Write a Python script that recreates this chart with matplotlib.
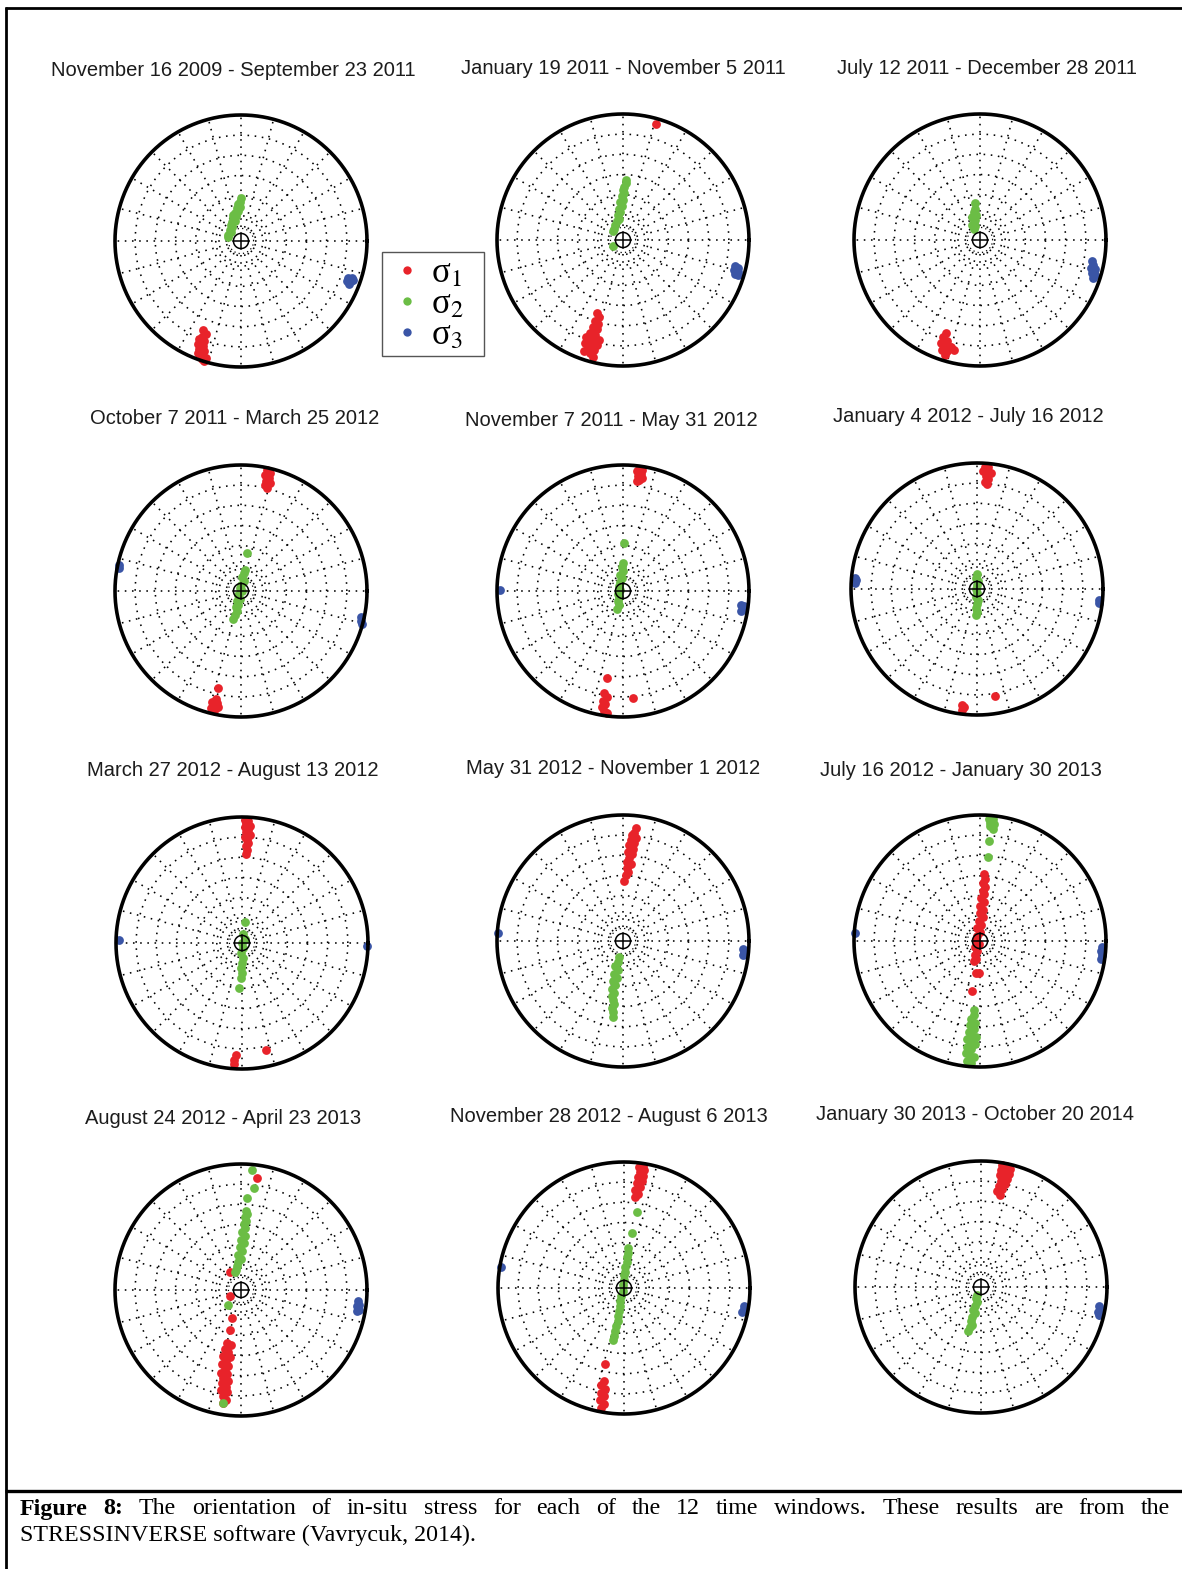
import matplotlib
matplotlib.use('Agg')  # headless
import matplotlib.pyplot as plt
from matplotlib.lines import Line2D
from matplotlib.patches import Rectangle
import numpy as np

W, H, DPI = 1182, 1569, 100

RED = '#e8232a'
GREEN = '#6bbd45'
BLUE = '#3a55a6'

titles = [
    'November 16 2009 - September 23 2011', 'January 19 2011 - November 5 2011',
    'July 12 2011 - December 28 2011',
    'October 7 2011 - March 25 2012', 'November 7 2011 - May 31 2012',
    'January 4 2012 - July 16 2012',
    'March 27 2012 - August 13 2012', 'May 31 2012 - November 1 2012',
    'July 16 2012 - January 30 2013',
    'August 24 2012 - April 23 2013', 'November 28 2012 - August 6 2013',
    'January 30 2013 - October 20 2014',
]

# principal stress axes, projected (east, north) on the unit net
w01_s1 = [(-0.30, -0.71), (-0.28, -0.74), (-0.31, -0.76), (-0.33, -0.78), (-0.29, -0.79), (-0.34, -0.82),
          (-0.30, -0.83), (-0.33, -0.86), (-0.29, -0.87), (-0.34, -0.89), (-0.31, -0.91), (-0.28, -0.93),
          (-0.31, -0.94), (-0.29, -0.95)]
w01_s2 = [(0.00, 0.34), (-0.01, 0.31), (-0.02, 0.29), (-0.01, 0.27), (-0.03, 0.26), (-0.03, 0.23), (-0.02, 0.24),
          (-0.05, 0.22), (-0.04, 0.20), (-0.06, 0.21), (-0.06, 0.18), (-0.05, 0.16), (-0.07, 0.15), (-0.08, 0.13),
          (-0.07, 0.11), (-0.09, 0.09), (-0.08, 0.07), (-0.10, 0.05), (-0.10, 0.03)]
w01_s3 = [(0.85, -0.29), (0.88, -0.29), (0.84, -0.32), (0.87, -0.32), (0.89, -0.31), (0.86, -0.34), (0.85, -0.31)]

w02_s1 = [(0.26, 0.92), (-0.21, -0.58), (-0.19, -0.61), (-0.22, -0.64), (-0.20, -0.67), (-0.24, -0.69), (-0.21, -0.71),
          (-0.26, -0.74), (-0.22, -0.75), (-0.29, -0.77), (-0.25, -0.79), (-0.19, -0.79), (-0.30, -0.82),
          (-0.26, -0.83), (-0.21, -0.83), (-0.28, -0.86), (-0.23, -0.87), (-0.31, -0.88), (-0.26, -0.90),
          (-0.24, -0.93)]
w02_s2 = [(0.02, 0.48), (0.02, 0.45), (0.01, 0.42), (0.00, 0.40), (0.01, 0.37), (-0.01, 0.35), (0.00, 0.32),
          (-0.02, 0.30), (-0.01, 0.27), (-0.03, 0.25), (-0.02, 0.22), (-0.04, 0.20), (-0.03, 0.17), (-0.05, 0.15),
          (-0.06, 0.12), (-0.07, 0.09), (-0.08, 0.07), (-0.08, -0.05)]
w02_s3 = [(0.89, -0.21), (0.91, -0.22), (0.88, -0.24), (0.91, -0.25), (0.89, -0.27), (0.91, -0.28)]

w03_s1 = [(-0.27, -0.74), (-0.29, -0.77), (-0.26, -0.80), (-0.31, -0.82), (-0.27, -0.84), (-0.23, -0.85),
          (-0.30, -0.87), (-0.26, -0.88), (-0.21, -0.87), (-0.28, -0.91)]
w03_s2 = [(-0.04, 0.29), (-0.04, 0.25), (-0.05, 0.22), (-0.03, 0.20), (-0.06, 0.18), (-0.04, 0.16), (-0.05, 0.14),
          (-0.06, 0.12), (-0.04, 0.11), (-0.05, 0.09)]
w03_s3 = [(0.89, -0.17), (0.90, -0.20), (0.88, -0.22), (0.91, -0.23), (0.89, -0.26), (0.91, -0.28), (0.90, -0.30)]

w04_s1 = [(0.21, 0.96), (0.23, 0.94), (0.19, 0.92), (0.22, 0.90), (0.20, 0.87), (0.23, 0.86), (0.19, 0.84),
          (0.21, 0.82), (-0.18, -0.77), (-0.20, -0.86), (-0.23, -0.88), (-0.19, -0.89), (-0.22, -0.91),
          (-0.18, -0.92), (-0.21, -0.94), (-0.24, -0.93)]
w04_s2 = [(0.05, 0.30), (0.03, 0.17), (0.02, 0.14), (0.01, 0.11), (0.02, 0.08), (0.00, 0.05), (-0.01, 0.02),
          (0.01, 0.00), (-0.02, -0.03), (-0.01, -0.06), (-0.03, -0.08), (-0.02, -0.11), (-0.04, -0.13),
          (-0.03, -0.16), (-0.05, -0.19), (-0.06, -0.22)]
w04_s3 = [(-0.97, 0.21), (-0.97, 0.18), (0.95, -0.21), (0.95, -0.24), (0.96, -0.26)]

w05_s1 = [(0.13, 0.97), (0.15, 0.96), (0.11, 0.95), (0.14, 0.93), (0.12, 0.91), (0.15, 0.90), (0.13, 0.88),
          (0.11, 0.87), (-0.13, -0.69), (-0.15, -0.81), (-0.13, -0.84), (-0.16, -0.87), (-0.14, -0.90),
          (-0.17, -0.92), (-0.15, -0.95), (-0.13, -0.97), (0.08, -0.85)]
w05_s2 = [(0.01, 0.38), (0.00, 0.22), (-0.01, 0.19), (0.00, 0.16), (-0.02, 0.13), (-0.01, 0.10), (-0.02, 0.07),
          (-0.03, 0.04), (-0.02, 0.01), (-0.04, -0.02), (-0.03, -0.05), (-0.04, -0.08), (-0.03, -0.11),
          (-0.05, -0.14)]
w05_s3 = [(-0.98, 0.01), (0.94, -0.11), (0.95, -0.14), (0.94, -0.16), (0.96, -0.12)]

w06_s1 = [(0.06, 0.97), (0.09, 0.97), (0.05, 0.94), (0.08, 0.93), (0.11, 0.92), (0.07, 0.90), (0.09, 0.87),
          (0.06, 0.85), (0.08, 0.83), (-0.12, -0.92), (-0.10, -0.94), (-0.12, -0.96), (0.14, -0.85)]
w06_s2 = [(0.00, 0.12), (-0.01, 0.09), (0.01, 0.06), (0.00, 0.03), (-0.01, 0.00), (0.00, -0.03), (-0.01, -0.06),
          (0.01, -0.09), (0.00, -0.12), (-0.01, -0.15), (0.00, -0.18), (-0.01, -0.21)]
w06_s3 = [(-0.97, 0.09), (-0.97, 0.05), (-0.96, 0.07), (0.97, -0.09), (0.97, -0.11)]

w07_s1 = [(0.02, 0.98), (0.05, 0.97), (0.03, 0.95), (0.06, 0.93), (0.02, 0.92), (0.05, 0.90), (0.03, 0.88),
          (0.06, 0.86), (0.02, 0.84), (0.04, 0.82), (0.05, 0.79), (0.03, 0.77), (0.04, 0.74), (0.03, 0.71),
          (-0.05, -0.89), (-0.06, -0.93), (-0.06, -0.96), (0.19, -0.85)]
w07_s2 = [(0.02, 0.17), (0.01, 0.07), (0.02, 0.03), (0.00, 0.00), (0.01, -0.04), (-0.01, -0.08), (0.01, -0.12),
          (0.00, -0.16), (-0.01, -0.20), (0.00, -0.24), (-0.01, -0.28), (-0.02, -0.36)]
w07_s3 = [(-0.98, 0.02), (0.99, -0.02)]

w08_s1 = [(0.10, 0.90), (0.09, 0.86), (0.07, 0.84), (0.10, 0.82), (0.06, 0.80), (0.09, 0.78), (0.05, 0.76),
          (0.08, 0.73), (0.04, 0.71), (0.07, 0.69), (0.05, 0.66), (0.03, 0.63), (0.06, 0.61), (0.03, 0.58),
          (0.04, 0.55), (0.02, 0.52), (0.01, 0.48)]
w08_s2 = [(-0.03, -0.13), (-0.04, -0.17), (-0.06, -0.20), (-0.04, -0.23), (-0.07, -0.26), (-0.05, -0.29),
          (-0.08, -0.32), (-0.06, -0.35), (-0.09, -0.38), (-0.07, -0.41), (-0.09, -0.44), (-0.08, -0.47),
          (-0.07, -0.50), (-0.09, -0.53), (-0.08, -0.56), (-0.08, -0.60)]
w08_s3 = [(-0.99, 0.06), (0.95, -0.06), (0.96, -0.09), (0.95, -0.11)]

w09_s1 = [(0.03, 0.53), (0.04, 0.49), (0.02, 0.46), (0.04, 0.43), (0.02, 0.40), (0.03, 0.37), (0.01, 0.34),
          (0.03, 0.31), (0.00, 0.28), (0.02, 0.25), (0.00, 0.22), (0.02, 0.19), (-0.01, 0.16), (0.01, 0.13),
          (-0.02, 0.10), (0.00, 0.07), (-0.02, 0.04), (-0.03, 0.01), (-0.01, -0.02), (-0.04, -0.05),
          (-0.02, -0.08), (-0.04, -0.11), (-0.03, -0.14), (-0.05, -0.16), (-0.03, -0.25), (-0.01, -0.25),
          (-0.06, -0.40)]
w09_s2 = [(0.07, 0.97), (0.10, 0.97), (0.08, 0.94), (0.11, 0.93), (0.08, 0.91), (0.10, 0.89), (0.07, 0.79),
          (0.06, 0.67), (-0.05, -0.55), (-0.05, -0.59), (-0.07, -0.62), (-0.04, -0.65), (-0.08, -0.67),
          (-0.05, -0.70), (-0.09, -0.72), (-0.06, -0.75), (-0.03, -0.76), (-0.10, -0.78), (-0.07, -0.80),
          (-0.04, -0.82), (-0.10, -0.84), (-0.07, -0.86), (-0.11, -0.89), (-0.08, -0.91), (-0.05, -0.92),
          (-0.10, -0.95), (-0.07, -0.97)]
w09_s3 = [(-0.99, 0.06), (0.97, -0.05), (0.96, -0.08), (0.97, -0.11), (0.96, -0.14)]

w10_s1 = [(0.13, 0.89), (-0.09, 0.14), (-0.09, -0.05), (-0.07, -0.22), (-0.09, -0.32), (-0.11, -0.42),
          (-0.08, -0.44), (-0.13, -0.47), (-0.10, -0.49), (-0.14, -0.52), (-0.09, -0.53), (-0.12, -0.56),
          (-0.15, -0.59), (-0.10, -0.60), (-0.13, -0.63), (-0.16, -0.66), (-0.11, -0.67), (-0.14, -0.70),
          (-0.10, -0.72), (-0.15, -0.74), (-0.12, -0.77), (-0.16, -0.79), (-0.11, -0.81), (-0.14, -0.84),
          (-0.12, -0.87), (-0.14, -0.90)]
w10_s2 = [(0.09, 0.95), (0.10, 0.81), (0.05, 0.73), (0.04, 0.63), (0.05, 0.60), (0.03, 0.58), (0.04, 0.55),
          (0.02, 0.52), (0.03, 0.49), (0.01, 0.46), (0.03, 0.43), (0.00, 0.40), (0.02, 0.37), (-0.01, 0.34),
          (0.01, 0.31), (-0.02, 0.28), (0.00, 0.25), (-0.02, 0.22), (-0.03, 0.19), (-0.04, 0.16), (-0.05, 0.14),
          (-0.10, -0.12), (-0.14, -0.90)]
w10_s3 = [(0.93, -0.09), (0.94, -0.12), (0.92, -0.13), (0.94, -0.16), (0.92, -0.17)]

w11_s1 = [(0.15, 0.97), (0.12, 0.96), (0.16, 0.94), (0.13, 0.92), (0.15, 0.89), (0.11, 0.88), (0.14, 0.85),
          (0.10, 0.83), (0.13, 0.80), (0.09, 0.78), (0.11, 0.75), (0.09, 0.72), (-0.15, -0.60), (-0.16, -0.74),
          (-0.18, -0.77), (-0.15, -0.80), (-0.18, -0.83), (-0.16, -0.86), (-0.19, -0.89), (-0.16, -0.92),
          (-0.18, -0.95)]
w11_s2 = [(0.10, 0.60), (0.06, 0.44), (0.03, 0.32), (0.03, 0.28), (0.02, 0.25), (0.02, 0.21), (0.01, 0.17),
          (0.01, 0.13), (0.00, 0.10), (0.00, 0.06), (-0.01, 0.02), (-0.01, -0.02), (-0.02, -0.06), (-0.03, -0.10),
          (-0.03, -0.14), (-0.04, -0.18), (-0.05, -0.22), (-0.05, -0.26), (-0.06, -0.30), (-0.07, -0.34),
          (-0.08, -0.38), (-0.09, -0.41)]
w11_s3 = [(-0.98, 0.17), (0.95, -0.14), (0.95, -0.17), (0.94, -0.19)]

w12_s1 = [(0.17, 0.97), (0.20, 0.96), (0.23, 0.94), (0.16, 0.93), (0.19, 0.92), (0.22, 0.90), (0.15, 0.89),
          (0.18, 0.88), (0.21, 0.86), (0.16, 0.84), (0.19, 0.82), (0.14, 0.80), (0.17, 0.78), (0.13, 0.76),
          (0.15, 0.73)]
w12_s2 = [(-0.03, -0.06), (-0.04, -0.09), (-0.03, -0.12), (-0.05, -0.15), (-0.06, -0.18), (-0.05, -0.21),
          (-0.07, -0.24), (-0.08, -0.27), (-0.07, -0.30), (-0.09, -0.32), (-0.10, -0.35)]
w12_s3 = [(0.94, -0.15), (0.95, -0.18), (0.93, -0.20), (0.94, -0.22)]

windows = [
    (w01_s1, w01_s2, w01_s3), (w02_s1, w02_s2, w02_s3), (w03_s1, w03_s2, w03_s3),
    (w04_s1, w04_s2, w04_s3), (w05_s1, w05_s2, w05_s3), (w06_s1, w06_s2, w06_s3),
    (w07_s1, w07_s2, w07_s3), (w08_s1, w08_s2, w08_s3), (w09_s1, w09_s2, w09_s3),
    (w10_s1, w10_s2, w10_s3), (w11_s1, w11_s2, w11_s3), (w12_s1, w12_s2, w12_s3),
]

# layout (pixels)
net_centres = [(241, 241), (623, 240), (980, 240), (241, 591), (623, 591), (977, 589),
               (242, 943), (623, 941), (980, 941), (241, 1290), (624, 1288), (981, 1287)]
title_xy = [(233, 70), (623, 69), (987, 69), (235, 419), (611, 420), (968, 417),
            (233, 771), (613, 769), (961, 771), (223, 1119), (609, 1117), (975, 1115)]
NET_R = 126
HALF = 135

fig = plt.figure(figsize=(W / DPI, H / DPI), dpi=DPI)
fig.patch.set_facecolor('white')

# page-level axes in pixel units: frame, titles, caption
page = fig.add_axes([0, 0, 1, 1])
page.set_xlim(0, W)
page.set_ylim(H, 0)
page.axis('off')
page.plot([5, W], [8, 8], color='k', lw=2.0, solid_capstyle='butt')
page.plot([6, 6], [7, H], color='k', lw=2.0, solid_capstyle='butt')
page.plot([5, W], [1491, 1491], color='k', lw=2.4, solid_capstyle='butt')

for t, (tx, ty) in zip(titles, title_xy):
    page.text(tx, ty, t, ha='center', va='center', fontsize=14.5,
              family='Liberation Sans', color='#1c1c1c')

theta = np.linspace(0, 2 * np.pi, 721)
ring_r = [0.20, 0.36, 0.52, 0.68, 0.84]
dot = (0, (1, 3.5))


def draw_net(ax, s1, s2, s3):
    for r in ring_r:
        ax.plot(r * np.cos(theta), r * np.sin(theta), color='k', lw=1.15, ls=dot)
    ax.plot(0.10 * np.cos(theta), 0.10 * np.sin(theta), color='k', lw=0.9, ls=(0, (1, 2.5)))
    for a in np.deg2rad(np.arange(0, 360, 15)):
        ax.plot([0.11 * np.cos(a), 0.99 * np.cos(a)], [0.11 * np.sin(a), 0.99 * np.sin(a)],
                color='k', lw=1.15, ls=dot)
    for pts, c in ((s1, RED), (s2, GREEN), (s3, BLUE)):
        xy = np.array(pts)
        ax.scatter(xy[:, 0], xy[:, 1], s=40, color=c, linewidths=0, zorder=3)
    ax.plot(np.cos(theta), np.sin(theta), color='k', lw=2.6, zorder=4)
    # centre mark
    ax.plot(0.06 * np.cos(theta), 0.06 * np.sin(theta), color='k', lw=1.1, zorder=5)
    ax.plot([-0.06, 0.06], [0, 0], color='k', lw=1.1, zorder=5)
    ax.plot([0, 0], [-0.06, 0.06], color='k', lw=1.1, zorder=5)


lim = HALF / NET_R
for (cx, cy), (s1, s2, s3) in zip(net_centres, windows):
    ax = fig.add_axes([(cx - HALF) / W, 1 - (cy + HALF) / H, 2 * HALF / W, 2 * HALF / H])
    ax.set_xlim(-lim, lim)
    ax.set_ylim(-lim, lim)
    ax.patch.set_alpha(0)
    ax.axis('off')
    draw_net(ax, s1, s2, s3)

# legend: entries without frame, box drawn separately so its size can be set
plt.rcParams['mathtext.fontset'] = 'stix'
page.add_patch(Rectangle((382, 252), 102, 104, fill=False, ec='#555555', lw=1.0))
handles = [Line2D([], [], ls='none', marker='o', ms=6, mec='none', mfc=c) for c in (RED, GREEN, BLUE)]
fig.legend(handles, ['σ$_1$', 'σ$_2$', 'σ$_3$'], loc='upper left',
           bbox_to_anchor=(396.5 / W, 1 - 257 / H), frameon=False,
           prop={'size': 25, 'family': 'Liberation Serif'},
           handlelength=0.6, handletextpad=0.4, labelspacing=-0.05, borderpad=0,
           borderaxespad=0)

# caption, first line justified
line1 = [('Figure', 'bold'), ('8:', 'bold')] + [(w, 'normal') for w in
         'The orientation of in-situ stress for each of the 12 time windows. These results are from the'.split()]
cap_kw = dict(fontsize=17.3, family='Liberation Serif', va='center', ha='left', color='k')
objs = [page.text(0, 1509, w, weight=wt, **cap_kw) for w, wt in line1]
renderer = fig.canvas.get_renderer()
widths = [o.get_window_extent(renderer).width for o in objs]
gap = (1170 - 20 - sum(widths)) / (len(objs) - 1)
x = 20
for o, wd in zip(objs, widths):
    o.set_x(x)
    x += wd + gap
page.text(20, 1535, 'STRESSINVERSE software (Vavrycuk, 2014).', **cap_kw)

fig.savefig('out.png', dpi=DPI)
plt.close(fig)
